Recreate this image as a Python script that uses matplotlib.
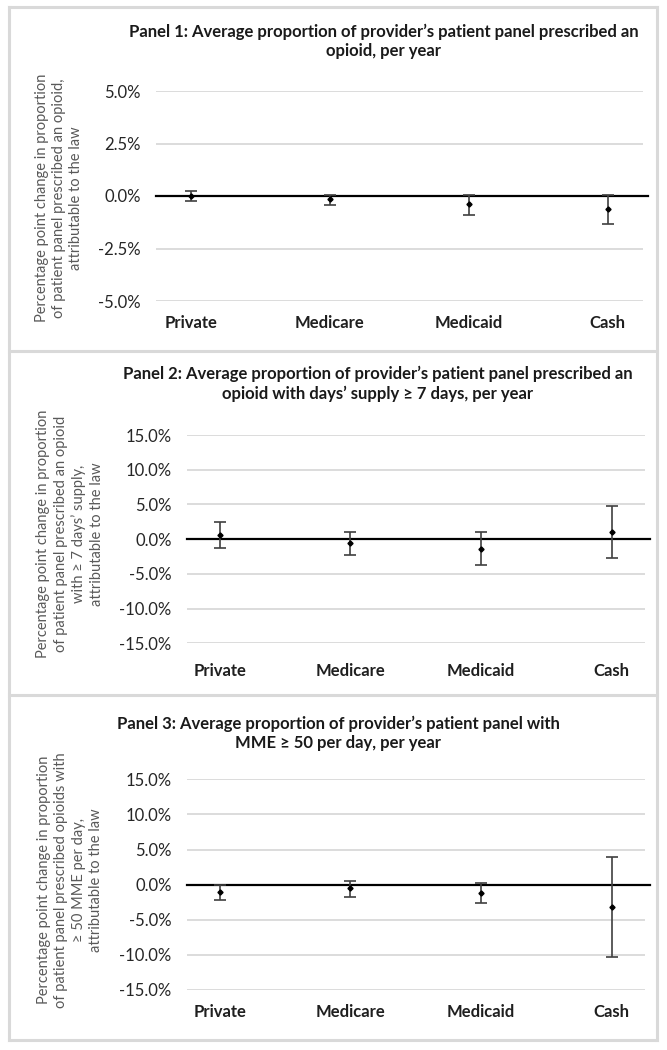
import matplotlib
matplotlib.use("Agg")
import matplotlib.pyplot as plt
from matplotlib.ticker import PercentFormatter, FixedLocator
from matplotlib.lines import Line2D

plt.rcParams["font.family"] = ["Lato", "DejaVu Sans"]
plt.rcParams["axes.unicode_minus"] = False

# data (percentage points)
categories = ["Private", "Medicare", "Medicaid", "Cash"]

p1_est = [-0.02, -0.15, -0.38, -0.60]
p1_lo = [-0.26, -0.41, -0.91, -1.31]
p1_hi = [0.24, 0.07, 0.07, 0.07]

p2_est = [0.62, -0.58, -1.40, 1.08]
p2_lo = [-1.24, -2.25, -3.70, -2.72]
p2_hi = [2.49, 0.98, 0.98, 4.78]

p3_est = [-1.00, -0.48, -1.19, -3.19]
p3_lo = [-2.24, -1.71, -2.67, -10.28]
p3_hi = [-0.05, 0.48, 0.24, 3.95]

titles = [
    "Panel 1: Average proportion of provider\u2019s patient panel prescribed an\nopioid, per year",
    "Panel 2: Average proportion of provider\u2019s patient panel prescribed an\nopioid with days\u2019 supply \u2265 7 days, per year",
    "Panel 3: Average proportion of provider\u2019s patient panel with\nMME \u2265 50 per day, per year",
]
ylabels = [
    "Percentage point change in proportion\nof patient panel prescribed an opioid,\nattributable to the law",
    "Percentage point change in proportion\nof patient panel prescribed an opioid\nwith \u2265 7 days\u2019 supply,\nattributable to the law",
    "Percentage point change in proportion\nof patient panel prescribed opioids with\n\u2265 50 MME per day,\nattributable to the law",
]
yticks = [[-5, -2.5, 0, 2.5, 5], [-15, -10, -5, 0, 5, 10, 15], [-15, -10, -5, 0, 5, 10, 15]]

W, H = 667, 1050
fig = plt.figure(figsize=(W / 100, H / 100), dpi=100)

def fx(x):
    return x / W

def fy(y):
    return 1 - y / H

# axes boxes in pixels: left, right, top, bottom
boxes = [(156, 642.5, 91, 301), (187, 644.5, 435, 643.3), (187, 644.5, 779.3, 990)]
title_pos = [(384, 41.5), (378, 384), (338, 733)]
ylab_pos = [(59, 198), (70, 534), (70, 880)]
xpad = [10, 14, 10]
panels = [(p1_est, p1_lo, p1_hi), (p2_est, p2_lo, p2_hi), (p3_est, p3_lo, p3_hi)]

xpos = [1, 2, 3, 4]
for i, (est, lo, hi) in enumerate(panels):
    l, r, t, b = boxes[i]
    ax = fig.add_axes([fx(l), fy(b), fx(r) - fx(l), (b - t) / H])
    ax.set_xlim(0.75, 4.25)
    ax.set_ylim(yticks[i][0], yticks[i][-1])
    for s in ax.spines.values():
        s.set_visible(False)
    ax.yaxis.set_major_locator(FixedLocator(yticks[i]))
    ax.yaxis.set_major_formatter(PercentFormatter(decimals=1))
    ax.grid(axis="y", color="#d9d9d9", lw=1.3, zorder=0)
    ax.axhline(0, xmin=0, xmax=1.012, color="black", lw=1.6, zorder=2, clip_on=False)
    yerr = [[e - a for e, a in zip(est, lo)], [c - e for e, c in zip(est, hi)]]
    ax.errorbar(xpos, est, yerr=yerr, fmt="D", ms=2.6, color="black", ecolor="#404040",
                elinewidth=1.2, capsize=4.5, capthick=1.2, zorder=3, clip_on=False)
    ax.set_xticks(xpos)
    ax.set_xticklabels(categories, fontsize=12, fontweight="bold", color="#1f1f1f")
    ax.tick_params(axis="x", length=0, pad=xpad[i])
    ax.tick_params(axis="y", length=0, pad=11, labelsize=12, labelcolor="#262626")
    fig.text(fx(title_pos[i][0]), fy(title_pos[i][1]), titles[i], ha="center", va="center",
             fontsize=12, fontweight="bold", color="#1a1a1a", linespacing=1.25)
    fig.text(fx(ylab_pos[i][0]), fy(ylab_pos[i][1]), ylabels[i], ha="center", va="center",
             rotation=90, fontsize=10.5, color="#595959", linespacing=1.3)

# panel frames
fc = "#d9d9d9"
for y in [7, 351, 695, 1040]:
    fig.add_artist(Line2D([fx(8.5), fx(657)], [fy(y), fy(y)], color=fc, lw=2.2))
for x in [8.5, 657]:
    fig.add_artist(Line2D([fx(x), fx(x)], [fy(7), fy(1040)], color=fc, lw=2.2))

fig.savefig("out.png", dpi=100)
